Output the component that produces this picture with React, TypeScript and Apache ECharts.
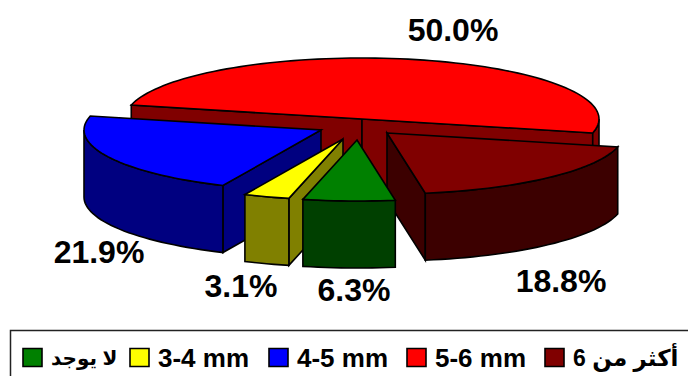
import React, { useEffect, useRef } from "react";
import * as echarts from "echarts";

// Case counts per diameter class, in clockwise order around the pie.
const categories = ["لا يوجد", "3-4 mm", "4-5 mm", "5-6 mm", "أكثر من 6"];
const counts = [2, 1, 7, 16, 6];
const topColors = ["#008000", "#ffff00", "#0000ff", "#ff0000", "#800000"];
const wallColors = ["#004000", "#808000", "#000080", "#800000", "#3c0000"];

// Back-to-front painting order of the slices.
const paintOrder = [3, 2, 4, 1, 0];

// Pie projection and per-slice explosion, in pixels.
const CENTER = [353, 130];
const RX = 237;
const RY = 61;
const DEPTH = 67;
const START_ANGLE = 80.7;
const EXPLODE = [[4, 10], [-10, 9], [-32, 0], [9, -11], [34, 3]];

const FONT_FAMILY = "'Liberation Sans', 'DejaVu Sans', Arial, sans-serif";
const LABEL_FONT = `bold 32px ${FONT_FAMILY}`;
const LEGEND_SIZES = [20, 26, 26, 26, 23];
const LABEL_POS = [[354, 290], [241, 286], [99, 252], [453, 30], [561, 281]];
const SWATCH_X = [23, 130, 269, 407, 545];

const total = counts.reduce((a, b) => a + b, 0);
const rad = (d: number) => (d * Math.PI) / 180;

function sliceSpan(i: number): [number, number] {
  const before = counts.slice(0, i).reduce((a, b) => a + b, 0);
  const a0 = START_ANGLE + (before / total) * 360;
  return [a0, a0 + (counts[i] / total) * 360];
}

function arc(ox: number, oy: number, from: number, to: number): number[][] {
  const pts: number[][] = [];
  const steps = Math.max(2, Math.ceil((to - from) / 2));
  for (let k = 0; k <= steps; k++) {
    const t = rad(from + ((to - from) * k) / steps);
    pts.push([ox + RX * Math.cos(t), oy + RY * Math.sin(t)]);
  }
  return pts;
}

const face = (points: number[][], fill: string) => ({
  type: "polygon",
  shape: { points },
  style: { fill, stroke: "#000", lineWidth: 1.6, lineJoin: "miter" },
});

function renderSlice(_: unknown, api: any) {
  const i = api.value(0);
  const [a0, a1] = sliceSpan(i);
  const ox = CENTER[0] + EXPLODE[i][0];
  const oy = CENTER[1] + EXPLODE[i][1];
  const children: any[] = [];
  const wall = wallColors[i];
  const down = (p: number[]) => [p[0], p[1] + DEPTH];

  // Cut faces turned towards the viewer.
  const first = arc(ox, oy, a0, a0 + 1)[0];
  const last = arc(ox, oy, a1 - 1, a1).slice(-1)[0];
  if (-Math.cos(rad(a0)) > 0) {
    children.push(face([[ox, oy], first, down(first), [ox, oy + DEPTH]], wall));
  }
  if (Math.cos(rad(a1)) > 0) {
    children.push(face([[ox, oy], last, down(last), [ox, oy + DEPTH]], wall));
  }

  // Outer rim: only the near half of the ellipse can be seen.
  for (const shift of [0, 360]) {
    const from = Math.max(a0, shift);
    const to = Math.min(a1, shift + 180);
    if (to > from) {
      const rim = arc(ox, oy, from, to);
      children.push(face([...rim, ...rim.map(down).reverse()], wall));
    }
  }

  children.push(face([[ox, oy], ...arc(ox, oy, a0, a1)], topColors[i]));
  children.push({
    type: "text",
    style: {
      text: `${((counts[i] / total) * 100).toFixed(1)}%`,
      x: LABEL_POS[i][0],
      y: LABEL_POS[i][1],
      font: LABEL_FONT,
      fill: "#000",
      align: "center",
      verticalAlign: "middle",
    },
  });
  return { type: "group", children };
}

export default function App() {
  const ref = useRef<HTMLDivElement>(null);
  useEffect(() => {
    const chart = echarts.init(ref.current!, null, { renderer: "svg" });
    const legend: any[] = [
      {
        type: "rect",
        shape: { x: 10.5, y: 330.5, width: 720, height: 70 },
        style: { fill: "#fff", stroke: "#222", lineWidth: 1.5 },
      },
    ];
    categories.forEach((name, i) => {
      legend.push({
        type: "rect",
        shape: { x: SWATCH_X[i], y: 348.5, width: 19, height: 18 },
        style: { fill: topColors[i], stroke: "#000", lineWidth: 1.6 },
      });
      legend.push({
        type: "text",
        style: {
          text: name,
          x: SWATCH_X[i] + 28,
          y: 358,
          font: `bold ${LEGEND_SIZES[i]}px ${FONT_FAMILY}`,
          fill: "#000",
          align: "left",
          verticalAlign: "middle",
        },
      });
    });
    chart.setOption({
      animation: false,
      backgroundColor: "#fff",
      graphic: legend,
      series: [
        {
          type: "custom",
          coordinateSystem: "none",
          renderItem: renderSlice,
          data: paintOrder.map((i) => [i]),
          silent: true,
        },
      ],
    });
    return () => chart.dispose();
  }, []);
  return <div ref={ref} style={{ position: "fixed", left: 0, top: 0, width: 688, height: 376 }} />;
}
